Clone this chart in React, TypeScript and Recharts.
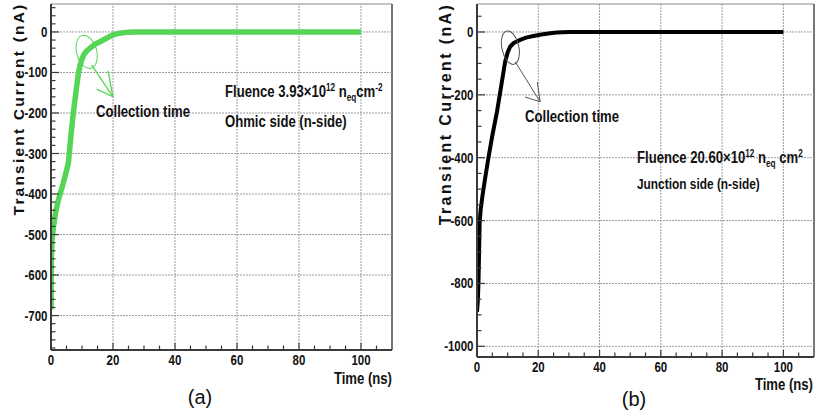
import React from 'react';
import {
  LineChart,
  Line,
  XAxis,
  YAxis,
  ReferenceLine,
  ReferenceArea,
  ReferenceDot,
} from 'recharts';

// ---- Panel (a): Ohmic side, fluence 3.93e12 ----
const timeA = [0, 0.1, 0.3, 0.8, 1.5, 2.2, 3.0, 4.0, 5.0, 5.6, 6.5, 7.2, 8.3, 8.9, 9.4, 9.9, 10.6, 11.5, 12.6, 14.0, 15.8, 18.0, 20.1, 22.0, 24.4, 27.0, 30.0, 100];
const currentA = [-685, -560, -515, -480, -445, -420, -398, -372, -342, -324, -250, -200, -133, -100, -82, -69, -56, -47, -40, -31, -24, -15, -7, -3, -1, 0, 0, 0];

// ---- Panel (b): Junction side, fluence 20.60e12 ----
const timeB = [0, 0.3, 0.5, 0.7, 0.85, 1.2, 1.8, 2.5, 3.8, 5.0, 6.5, 8.1, 9.2, 10.0, 10.8, 12.0, 14.1, 16.0, 18.4, 21.0, 23.9, 26.0, 28.0, 30.0, 100];
const currentB = [-890, -850, -790, -690, -610, -565, -520, -475, -396, -330, -255, -160, -94, -65, -47, -35, -25, -18, -13, -8, -4, -2, -1, 0, 0];

// ---- Axis settings ----
const timeDomain: [number, number] = [0, 110];
const timeMajor = [0, 20, 40, 60, 80, 100];
const domainA: [number, number] = [-785, 69];
const majorA = [-700, -600, -500, -400, -300, -200, -100, 0];
const domainB: [number, number] = [-1034, 89];
const majorB = [-1000, -800, -600, -400, -200, 0];

const range = (from: number, to: number, step: number) => {
  const out: number[] = [];
  for (let v = from; v <= to + 1e-9; v += step) out.push(Math.round(v * 1000) / 1000);
  return out;
};
const timeTicks = range(0, 110, 5);
const ticksA = range(-780, 60, 20);
const ticksB = range(-1000, 50, 50);

const toRows = (t: number[], v: number[]) => t.map((time, i) => ({ time, current: v[i] }));
const rowsA = toRows(timeA, currentA);
const rowsB = toRows(timeB, currentB);

const FONT = "'Liberation Sans', Arial, Helvetica, sans-serif";
const SQUEEZE = 0.82; // condensed bold lettering
const GAP = 3;
const AXIS = '#3a3a3a';
const GRID = '#9c9c9c';

// Bold condensed text drawn by squeezing a regular bold face horizontally
const NText = ({ x, y, size, anchor = 'start', children }: any) => (
  <text
    transform={`translate(${x} ${y}) scale(${SQUEEZE} 1)`}
    textAnchor={anchor}
    fontFamily={FONT}
    fontWeight="bold"
    fontSize={size}
    fill="#111"
  >
    {children}
  </text>
);

const YTick = (props: any) => {
  const { x, y, payload, every } = props;
  const v = payload.value as number;
  const isMajor = Math.abs(v % every) < 1e-6;
  const ax = x + GAP;
  return (
    <g>
      <line x1={ax} x2={ax + (isMajor ? 8 : 4.5)} y1={y} y2={y} stroke={AXIS} strokeWidth={1.2} />
      {isMajor && (
        <NText x={x - 0.5} y={y + 5} size={14} anchor="end">
          {v}
        </NText>
      )}
    </g>
  );
};

const XTick = (props: any) => {
  const { x, y, payload } = props;
  const v = payload.value as number;
  const isMajor = Math.abs(v % 20) < 1e-6 && v <= 100;
  const ay = y - GAP;
  return (
    <g>
      {v > 0 && v < 110 && (
        <line x1={x} x2={x} y1={ay} y2={ay - (isMajor ? 7 : 4.5)} stroke={AXIS} strokeWidth={1.2} />
      )}
      {isMajor && (
        <NText x={x} y={ay + 15} size={14} anchor="middle">
          {v}
        </NText>
      )}
    </g>
  );
};

type PanelProps = {
  rows: { time: number; current: number }[];
  width: number;
  height: number;
  margin: { top: number; right: number; bottom: number; left: number };
  yDomain: [number, number];
  yTicks: number[];
  yMajor: number[];
  labelEvery: number;
  color: string;
  strokeWidth: number;
  ellipse: { x: number; y: number; rx: number; ry: number; rot: number; color: string };
  arrows: { from: [number, number]; to: [number, number] }[];
  arrowColor: string;
  arrowWidth: number;
};

const Panel = (p: PanelProps) => (
  <LineChart width={p.width} height={p.height} data={p.rows} margin={p.margin}>
    <XAxis
      dataKey="time"
      type="number"
      domain={timeDomain}
      ticks={timeTicks}
      interval={0}
      allowDataOverflow
      height={1}
      tickSize={0}
      tickMargin={GAP}
      axisLine={{ stroke: AXIS, strokeWidth: 2 }}
      tickLine={false}
      tick={(t: any) => <XTick {...t} />}
    />
    <YAxis
      type="number"
      domain={p.yDomain}
      ticks={p.yTicks}
      interval={0}
      allowDataOverflow
      width={1}
      tickSize={0}
      tickMargin={GAP}
      axisLine={{ stroke: AXIS, strokeWidth: 2 }}
      tickLine={false}
      tick={(t: any) => <YTick {...t} every={p.labelEvery} />}
    />
    {/* frame */}
    <ReferenceArea x1={timeDomain[0]} x2={timeDomain[1]} y1={p.yDomain[0]} y2={p.yDomain[1]} fill="none" stroke="#8a8a8a" strokeWidth={1} ifOverflow="visible" />
    <ReferenceLine x={timeDomain[1]} stroke="#777" strokeWidth={2} ifOverflow="visible" />
    {/* dotted grid at the labelled ticks */}
    {p.yMajor.map((v) => (
      <ReferenceLine key={'gy' + v} y={v} stroke={GRID} strokeDasharray="2 1" strokeWidth={1} />
    ))}
    {timeMajor.filter((t) => t > 0).map((t) => (
      <ReferenceLine key={'gx' + t} x={t} stroke={GRID} strokeDasharray="2 1" strokeWidth={1} />
    ))}
    <Line
      dataKey="current"
      type="linear"
      stroke={p.color}
      strokeWidth={p.strokeWidth}
      dot={false}
      isAnimationActive={false}
      strokeLinejoin="round"
      strokeLinecap="butt"
    />
    <ReferenceDot
      x={p.ellipse.x}
      y={p.ellipse.y}
      r={1}
      ifOverflow="visible"
      shape={(s: any) => (
        <ellipse
          cx={s.cx}
          cy={s.cy}
          rx={p.ellipse.rx}
          ry={p.ellipse.ry}
          fill="none"
          stroke={p.ellipse.color}
          strokeWidth={1}
          transform={`rotate(${p.ellipse.rot} ${s.cx} ${s.cy})`}
        />
      )}
    />
    {p.arrows.map((a, i) => (
      <ReferenceLine
        key={'ar' + i}
        segment={[{ x: a.from[0], y: a.from[1] }, { x: a.to[0], y: a.to[1] }]}
        stroke={p.arrowColor}
        strokeWidth={p.arrowWidth}
        ifOverflow="visible"
      />
    ))}
  </LineChart>
);

const sup = { fontSize: 10 };

export default function App() {
  return (
    <div style={{ position: 'absolute', left: 0, top: 0, width: 815, height: 416, background: '#fff', overflow: 'hidden' }}>
      <div style={{ position: 'absolute', left: 0, top: 0 }}>
        <Panel
          rows={rowsA}
          width={410}
          height={416}
          margin={{ top: 4, right: 18, bottom: 65, left: 50 }}
          yDomain={domainA}
          yTicks={ticksA}
          yMajor={majorA}
          labelEvery={100}
          color="#55d455"
          strokeWidth={5.5}
          ellipse={{ x: 11.5, y: -49, rx: 10, ry: 17, rot: -15, color: '#55d455' }}
          arrows={[
            { from: [13.1, -81], to: [20, -160] },
            { from: [14.7, -141], to: [20, -160] },
            { from: [18.4, -96], to: [20, -160] },
          ]}
          arrowColor="#55d455"
          arrowWidth={1.3}
        />
      </div>
      <div style={{ position: 'absolute', left: 410, top: 0 }}>
        <Panel
          rows={rowsB}
          width={405}
          height={416}
          margin={{ top: 4, right: 1, bottom: 58, left: 66 }}
          yDomain={domainB}
          yTicks={ticksB}
          yMajor={majorB}
          labelEvery={200}
          color="#000"
          strokeWidth={4}
          ellipse={{ x: 10.9, y: -50, rx: 8.5, ry: 17, rot: -12, color: '#555' }}
          arrows={[
            { from: [12.5, -95], to: [20.6, -222] },
            { from: [15.7, -207], to: [20.6, -222] },
            { from: [19.7, -159], to: [20.6, -222] },
          ]}
          arrowColor="#555"
          arrowWidth={1}
        />
      </div>
      <svg width={815} height={416} style={{ position: 'absolute', left: 0, top: 0, pointerEvents: 'none' }}>
        {/* axis titles */}
        <text transform="translate(24 109) rotate(-90)" textAnchor="middle" fontFamily={FONT} fontWeight="bold" fontSize={15.5} letterSpacing={2.2} fill="#111">
          Transient Current (nA)
        </text>
        <text transform="translate(451 114) rotate(-90)" textAnchor="middle" fontFamily={FONT} fontWeight="bold" fontSize={16} letterSpacing={2.4} fill="#111">
          Transient Current (nA)
        </text>
        <NText x={392} y={384} size={16} anchor="end">Time (ns)</NText>
        <NText x={813} y={390} size={16} anchor="end">Time (ns)</NText>
        <text x={200} y={404} textAnchor="middle" fontFamily={FONT} fontSize={20} fill="#111">(a)</text>
        <text x={634} y={406} textAnchor="middle" fontFamily={FONT} fontSize={20} fill="#111">(b)</text>

        {/* panel (a) notes */}
        <NText x={96} y={117} size={16}>Collection time</NText>
        <NText x={225} y={97} size={16}>
          Fluence 3.93×10<tspan dy={-6} style={sup}>12</tspan>
          <tspan dy={6}> n</tspan>
          <tspan dy={4} style={sup}>eq</tspan>
          <tspan dy={-4}>cm</tspan>
          <tspan dy={-6} style={sup}>-2</tspan>
        </NText>
        <NText x={225} y={127} size={16}>Ohmic side (n-side)</NText>

        {/* panel (b) notes */}
        <NText x={525} y={122} size={16}>Collection time</NText>
        <NText x={637} y={163} size={16}>
          Fluence 20.60×10<tspan dy={-6} style={sup}>12</tspan>
          <tspan dy={6}> n</tspan>
          <tspan dy={4} style={sup}>eq</tspan>
          <tspan dy={-4}> cm</tspan>
          <tspan dy={-6} style={sup}>2</tspan>
        </NText>
        <NText x={637} y={189} size={14.5}>Junction side (n-side)</NText>
      </svg>
    </div>
  );
}
